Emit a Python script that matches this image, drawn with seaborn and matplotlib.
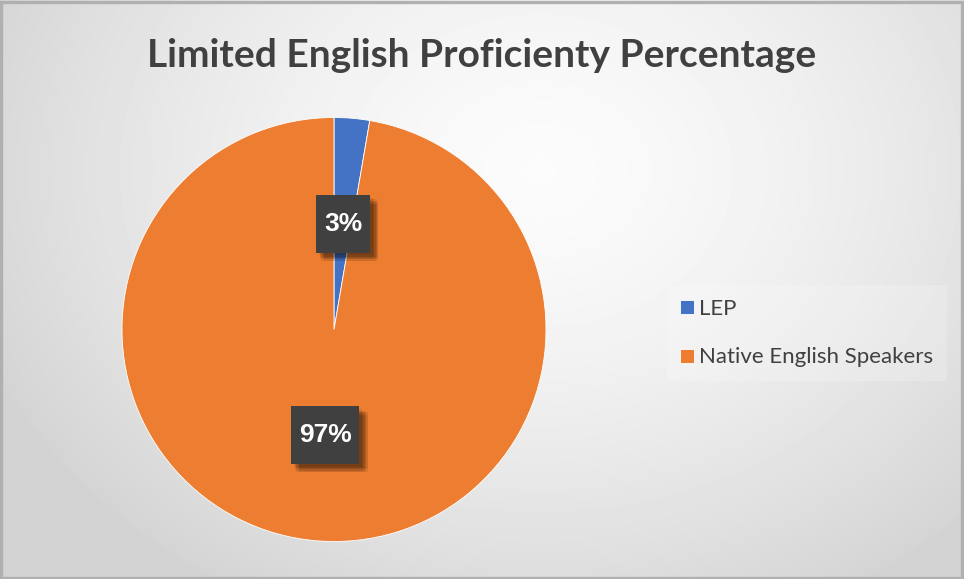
import numpy as np
import matplotlib
matplotlib.use("Agg")
import matplotlib.pyplot as plt
import matplotlib.patheffects as pe
from matplotlib.patches import Rectangle
import seaborn as sns

# Data
categories = ["LEP", "Native English Speakers"]
shares = [2.7, 97.3]
slice_colors = ["#4472C4", "#ED7D31"]
title_text = "Limited English Proficienty Percentage"

sns.set_theme(style="white")
plt.rcParams["font.family"] = ["Lato", "DejaVu Sans"]

W, H = 964, 579
fig = plt.figure(figsize=(W / 100, H / 100), dpi=100)

# Radial grey backdrop, brightest just below the title
bg = fig.add_axes([0, 0, 1, 1], zorder=-10)
yy, xx = np.mgrid[0:H, 0:W]
d = np.sqrt(((xx - 540) / 640.0) ** 2 + ((yy - 170) / 520.0) ** 2)
shade = np.clip(0.985 - 0.17 * d ** 1.5, 0.83, 1.0)
bg.imshow(shade, cmap="gray", vmin=0, vmax=1, extent=[0, 1, 0, 1],
          aspect="auto", interpolation="bilinear")
bg.add_patch(Rectangle((0.001, 0.002), 0.997, 0.995, transform=bg.transAxes,
                       fill=False, edgecolor="#b0b0b0", lw=2.4))
bg.set_axis_off()

# Pie
cx, cy, r = 334, 329.5, 212
ax = fig.add_axes([(cx - r) / W, (H - cy - r) / H, 2 * r / W, 2 * r / H])
wedges, _, autotexts = ax.pie(
    shares, colors=slice_colors, startangle=90, counterclock=False,
    autopct="%.0f%%", pctdistance=0.5,
    wedgeprops=dict(edgecolor="white", linewidth=0.6),
    textprops=dict(color="white", fontsize=19, fontweight="bold",
                   family=["Liberation Sans", "DejaVu Sans"]))

# Dark label boxes with a soft drop shadow
soft_shadow = [pe.withSimplePatchShadow(offset=(dx, -dy), shadow_rgbFace="black",
                                        alpha=0.07)
               for dx, dy in [(2, 2), (3, 3), (4, 4), (5, 5), (6, 6),
                              (3, 5), (5, 3), (4, 6), (6, 4)]]
for t in autotexts:
    t.set_bbox(dict(boxstyle="square,pad=0.3", mutation_aspect=2.1,
                    facecolor="#404040", edgecolor="none"))
    t.get_bbox_patch().set_path_effects(soft_shadow + [pe.Normal()])
ax.set_xlim(-1, 1)
ax.set_ylim(-1, 1)
ax.set_aspect("equal")
ax.set_axis_off()

# Title
fig.text(0.5, 1 - 67 / H, title_text, ha="center", va="baseline",
         fontsize=28, fontweight="bold", color="#404040")

# Legend
leg = fig.legend(wedges, categories, loc="center left",
                 bbox_to_anchor=(656 / W, 1 - 333 / H),
                 frameon=True, fontsize=16, labelcolor="#404040",
                 handlelength=0.6, handleheight=0.6, handletextpad=0.25,
                 labelspacing=1.3, borderpad=0.6, fancybox=False)
leg.get_frame().set_facecolor("white")
leg.get_frame().set_alpha(0.2)
leg.get_frame().set_edgecolor("none")

fig.savefig("out.png", dpi=100)
